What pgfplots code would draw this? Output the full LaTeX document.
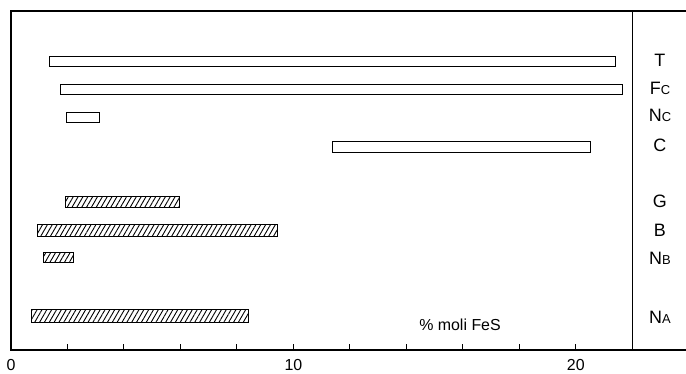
\documentclass[border=0pt]{standalone}
\usepackage{pgfplots}
\pgfplotsset{compat=1.18}
\usepackage{fontspec}
\setmainfont{Liberation Sans}
\usetikzlibrary{patterns.meta}
\newcommand{\sub}[1]{{\fontsize{13}{13}\selectfont #1}}
\begin{document}
\begin{tikzpicture}
\begin{axis}[
  scale only axis, width=683.4bp, height=339bp,
  at={(0,0)}, anchor=south west,
  xmin=0, xmax=24.2, ymin=0, ymax=339,
  axis line style={line width=1.2bp},
  ytick=\empty,
  xtick={0,10,20}, minor xtick={2,4,6,8,12,14,16,18},
  xtick pos=bottom, tick align=inside,
  major tick length=6bp, minor tick length=6bp,
  every tick/.style={line width=1bp, black},
  xticklabel style={font=\fontsize{16}{16}\selectfont, inner sep=0pt, anchor=north, yshift=-9bp},
  /pgf/number format/assume math mode=true,
]
% hollow bars
\addplot[black, line width=1bp, fill=white] coordinates {(1.38,283) (21.41,283) (21.41,293) (1.38,293)} -- cycle;
\addplot[black, line width=1bp, fill=white] coordinates {(1.74,255) (21.64,255) (21.64,265) (1.74,265)} -- cycle;
\addplot[black, line width=1bp, fill=white] coordinates {(1.97,227) (3.15,227) (3.15,237) (1.97,237)} -- cycle;
\addplot[black, line width=1bp, fill=white] coordinates {(11.39,197) (20.53,197) (20.53,208) (11.39,208)} -- cycle;
% hatched bars
\addplot[black, line width=1bp, pattern={Lines[angle=60, distance=4.2bp, line width=0.9bp]}] coordinates {(1.94,142) (5.98,142) (5.98,153) (1.94,153)} -- cycle;
\addplot[black, line width=1bp, pattern={Lines[angle=60, distance=4.2bp, line width=0.9bp]}] coordinates {(0.94,113) (9.44,113) (9.44,125) (0.94,125)} -- cycle;
\addplot[black, line width=1bp, pattern={Lines[angle=60, distance=4.2bp, line width=0.9bp]}] coordinates {(1.14,87) (2.23,87) (2.23,97) (1.14,97)} -- cycle;
\addplot[black, line width=1bp, pattern={Lines[angle=60, distance=4.2bp, line width=0.9bp]}] coordinates {(0.71,27) (8.40,27) (8.40,40) (0.71,40)} -- cycle;
% separator
\draw[line width=1.2bp] (axis cs:22,0) -- (axis cs:22,339);
% labels
\begin{scope}[every node/.style={anchor=base, font=\fontsize{18}{18}\selectfont, inner sep=0pt}]
\node at (axis cs:22.98,283) {T};
\node at (axis cs:22.98,255) {F\sub{C}};
\node at (axis cs:22.98,228) {N\sub{C}};
\node at (axis cs:22.98,198) {C};
\node at (axis cs:22.98,142) {G};
\node at (axis cs:22.98,113) {B};
\node at (axis cs:22.98,85) {N\sub{B}};
\node at (axis cs:22.98,27) {N\sub{A}};
\end{scope}
\node[anchor=base, font=\fontsize{16}{16}\selectfont, inner sep=0pt] at (axis cs:15.9,20) {\% moli FeS};
\end{axis}
\pgfresetboundingbox
\useasboundingbox (-11bp,-24bp) rectangle (675bp,350bp);
\end{tikzpicture}
\end{document}
